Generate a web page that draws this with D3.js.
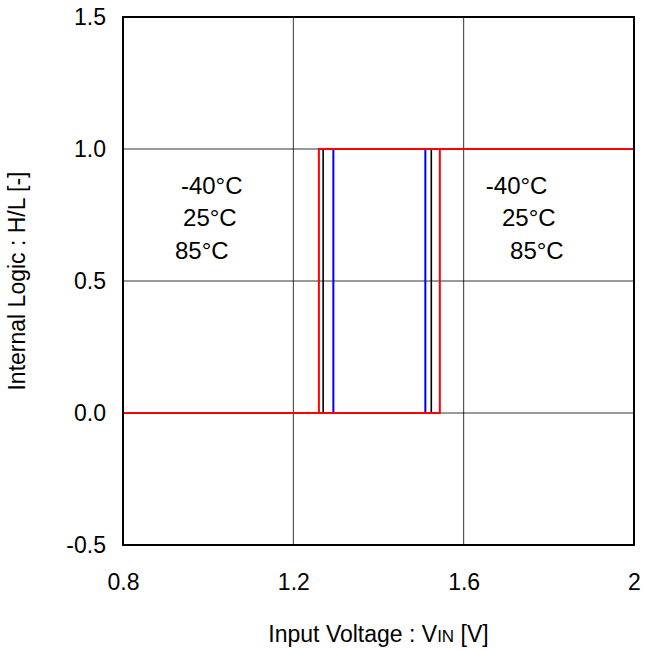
<!DOCTYPE html>
<html>
<head>
<meta charset="utf-8">
<script src="https://cdn.jsdelivr.net/npm/d3@7"></script>
<style>
  body { margin: 0; background: #fff; }
  text { font-family: "Liberation Sans", Arial, sans-serif; fill: #000; }
</style>
</head>
<body>
<svg width="646" height="650"></svg>
<script>
// hysteresis of the input buffer
var temps = ["-40°C", "25°C", "85°C"];
var colors = ["#0000ff", "#000000", "#ff0000"];
var vUp = [1.510, 1.524, 1.544];    // L -> H threshold
var vDown = [1.294, 1.270, 1.260];  // H -> L threshold
var xTicks = [0.8, 1.2, 1.6, 2.0];
var xTickLabels = ["0.8", "1.2", "1.6", "2"];
var yTicks = [-0.5, 0, 0.5, 1.0, 1.5];
var yTickLabels = ["-0.5", "0.0", "0.5", "1.0", "1.5"];

var svg = d3.select("svg");
var margin = { top: 17, right: 12, bottom: 105, left: 123 };
var width = +svg.attr("width") - margin.left - margin.right;
var height = +svg.attr("height") - margin.top - margin.bottom;

var x = d3.scaleLinear().domain([0.8, 2.0]).range([0, width]);
var y = d3.scaleLinear().domain([-0.5, 1.5]).range([height, 0]);

var g = svg.append("g")
    .attr("transform", `translate(${margin.left},${margin.top})`);

// grid
g.selectAll("line.gx")
    .data(xTicks.slice(1, -1))
    .enter().append("line")
    .attr("x1", d => x(d)).attr("x2", d => x(d))
    .attr("y1", 0).attr("y2", height)
    .attr("stroke", "#000").attr("stroke-width", 0.8);

g.selectAll("line.gy")
    .data(yTicks.slice(1, -1))
    .enter().append("line")
    .attr("x1", 0).attr("x2", width)
    .attr("y1", d => y(d)).attr("y2", d => y(d))
    .attr("stroke", "#000").attr("stroke-width", 0.8);

// tick labels
var xAxis = d3.axisBottom(x).tickValues(xTicks)
    .tickFormat((d, i) => xTickLabels[i]).tickSize(0).tickPadding(29);
var yAxis = d3.axisLeft(y).tickValues(yTicks)
    .tickFormat((d, i) => yTickLabels[i]).tickSize(0).tickPadding(17);

g.append("g").attr("transform", `translate(0,${height})`).call(xAxis)
    .call(a => a.select(".domain").remove())
    .selectAll("text").style("font-size", "23px").attr("fill", "#000");
g.append("g").call(yAxis)
    .call(a => a.select(".domain").remove())
    .selectAll("text").style("font-size", "23px").attr("fill", "#000");

// loops
var line = d3.line().x(d => x(d[0])).y(d => y(d[1]));
temps.forEach(function (t, i) {
    var pts = [[0.8, 0], [vUp[i], 0], [vUp[i], 1], [2.0, 1],
               [vDown[i], 1], [vDown[i], 0], [0.8, 0]];
    g.append("path")
        .attr("d", line(pts))
        .attr("fill", "none")
        .attr("stroke", colors[i])
        .attr("stroke-width", i == 1 ? 1.6 : 2);
});

// frame
g.append("rect")
    .attr("width", width).attr("height", height)
    .attr("fill", "none").attr("stroke", "#000").attr("stroke-width", 2);

// temperature labels
var leftPos = [[0.936, 0.86], [0.941, 0.742], [0.922, 0.617]];
var rightPos = [[1.652, 0.86], [1.690, 0.742], [1.709, 0.617]];
[leftPos, rightPos].forEach(function (pos) {
    g.selectAll(null)
        .data(temps)
        .enter().append("text")
        .attr("x", (d, i) => x(pos[i][0]))
        .attr("y", (d, i) => y(pos[i][1]))
        .attr("dy", "0.35em")
        .style("font-size", "24px")
        .text(d => d);
});

// axis titles
var xt = svg.append("text")
    .attr("x", margin.left + width / 2)
    .attr("y", 642)
    .attr("text-anchor", "middle")
    .style("font-size", "23px");
xt.append("tspan").text("Input Voltage : V");
xt.append("tspan").style("font-size", "17px").text("IN");
xt.append("tspan").text(" [V]");

svg.append("text")
    .attr("transform", `translate(25,${margin.top + height / 2}) rotate(-90)`)
    .attr("text-anchor", "middle")
    .style("font-size", "23px")
    .text("Internal Logic : H/L [-]");
</script>
</body>
</html>
